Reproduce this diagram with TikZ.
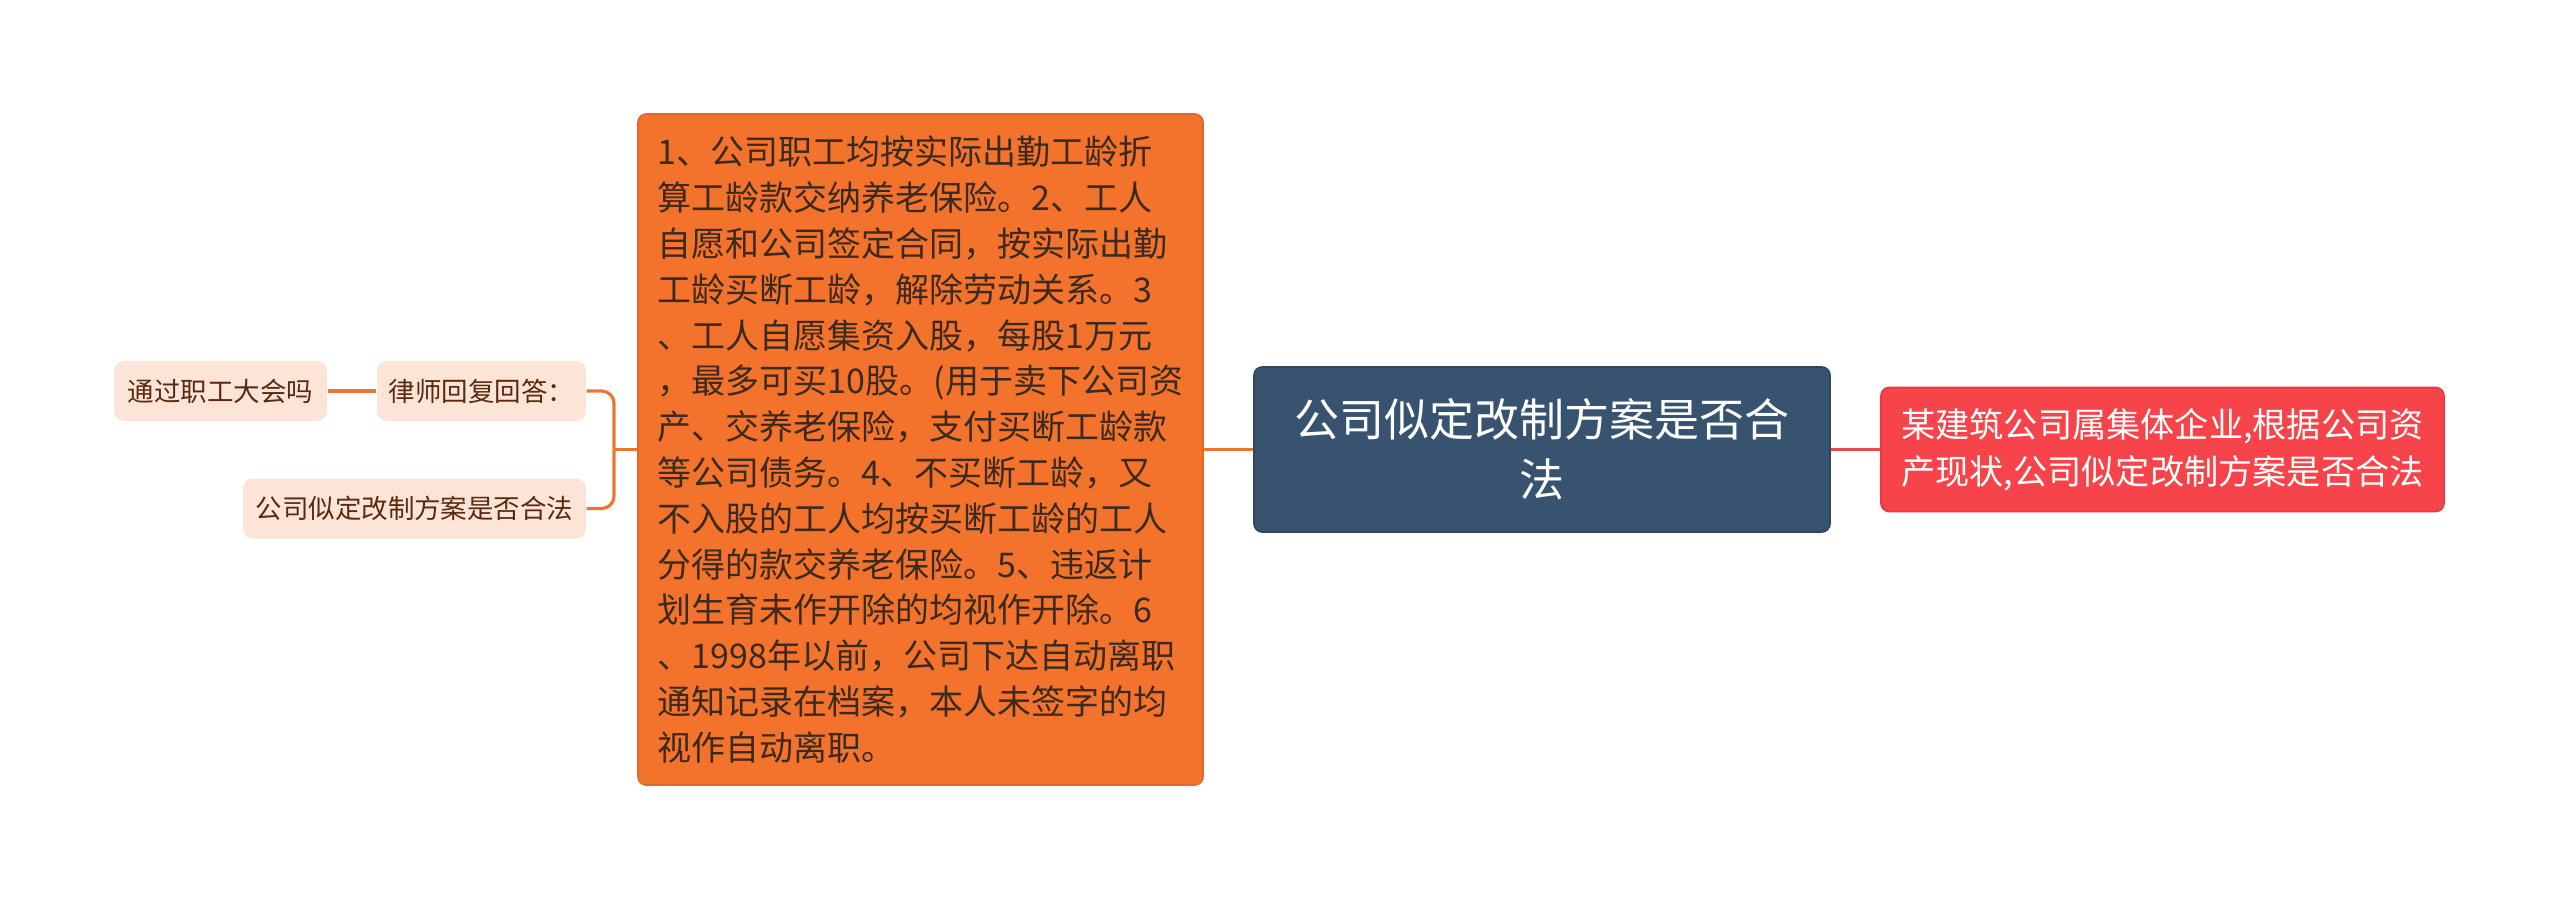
\documentclass[tikz,border=0pt]{standalone}
\usepackage{fontspec}
\newfontfamily\cjk{Noto Sans CJK SC}
\definecolor{orfill}{HTML}{F3732C}
\definecolor{orborder}{HTML}{E4672A}
\definecolor{ortext}{HTML}{3A2A20}
\definecolor{dkfill}{HTML}{37536F}
\definecolor{dkborder}{HTML}{2E475F}
\definecolor{rdfill}{HTML}{F7444A}
\definecolor{rdborder}{HTML}{E8393F}
\definecolor{leaffill}{HTML}{FCE5D7}
\definecolor{leaftext}{HTML}{5A2A10}
\definecolor{orline}{HTML}{EE7434}
\definecolor{rdline}{HTML}{E84A52}
\tikzset{
  basebox/.style={inner sep=0pt, anchor=center},
  orangebox/.style={basebox, rounded corners=2.4pt, fill=orfill, draw=orborder, line width=0.5pt,
    minimum width=56.5mm, minimum height=67.1mm, align=left, text=ortext,
    font={\cjk\fontsize{9.67pt}{13.03pt}\selectfont}},
  darkbox/.style={basebox, rounded corners=2.4pt, fill=dkfill, draw=dkborder, line width=0.5pt,
    minimum width=57.6mm, minimum height=16.5mm, align=center, text=white,
    font={\cjk\fontsize{12.8pt}{17.07pt}\selectfont}},
  redbox/.style={basebox, rounded corners=2.4pt, fill=rdfill, draw=rdborder, line width=0.5pt,
    minimum width=56.3mm, minimum height=12.4mm, align=left, text=white,
    font={\cjk\fontsize{9.73pt}{13.37pt}\selectfont}},
  leaf/.style={basebox, rounded corners=2.8pt, fill=leaffill, minimum height=6mm, text=leaftext,
    font={\cjk\fontsize{7.54pt}{9pt}\selectfont}},
  orconn/.style={draw=orline, line width=0.9pt},
  rdconn/.style={draw=rdline, line width=0.9pt},
}
\begin{document}
\begin{tikzpicture}[x=0.1mm, y=-0.1mm]
\useasboundingbox (0,0) rectangle (2560,900);

\node[darkbox] (root) at (1542,449.5) {公司似定改制方案是否合\\法};
\node[redbox] (desc) at (2162.5,449.5) {某建筑公司属集体企业,根据公司资\\产现状,公司似定改制方案是否合法};
\node[orangebox] (ans) at (920.5,449.5) {1、公司职工均按实际出勤工龄折\\
算工龄款交纳养老保险。2、工人\\
自愿和公司签定合同，按实际出勤\\
工龄买断工龄，解除劳动关系。3\\
、工人自愿集资入股，每股1万元\\
，最多可买10股。(用于卖下公司资\\
产、交养老保险，支付买断工龄款\\
等公司债务。4、不买断工龄，又\\
不入股的工人均按买断工龄的工人\\
分得的款交养老保险。5、违返计\\
划生育未作开除的均视作开除。6\\
、1998年以前，公司下达自动离职\\
通知记录在档案，本人未签字的均\\
视作自动离职。};
\node[leaf, minimum width=20.9mm] (reply) at (481.5,391) {律师回复回答：};
\node[leaf, minimum width=21.3mm] (meet) at (220.5,391) {通过职工大会吗};
\node[leaf, minimum width=34.3mm] (legal) at (414.5,508.5) {公司似定改制方案是否合法};

\coordinate (j) at (614,449.5);

\draw[orconn] (root.west) -- (ans.east);
\draw[rdconn] (root.east) -- (desc.west);
\draw[orconn] (ans.west) -- (j);
\draw[orconn, rounded corners=3.5pt] (reply.east) -| (j);
\draw[orconn, rounded corners=3.5pt] (legal.east) -| (j);
\draw[orconn] (reply.west) -- (meet.east);
\end{tikzpicture}
\end{document}
